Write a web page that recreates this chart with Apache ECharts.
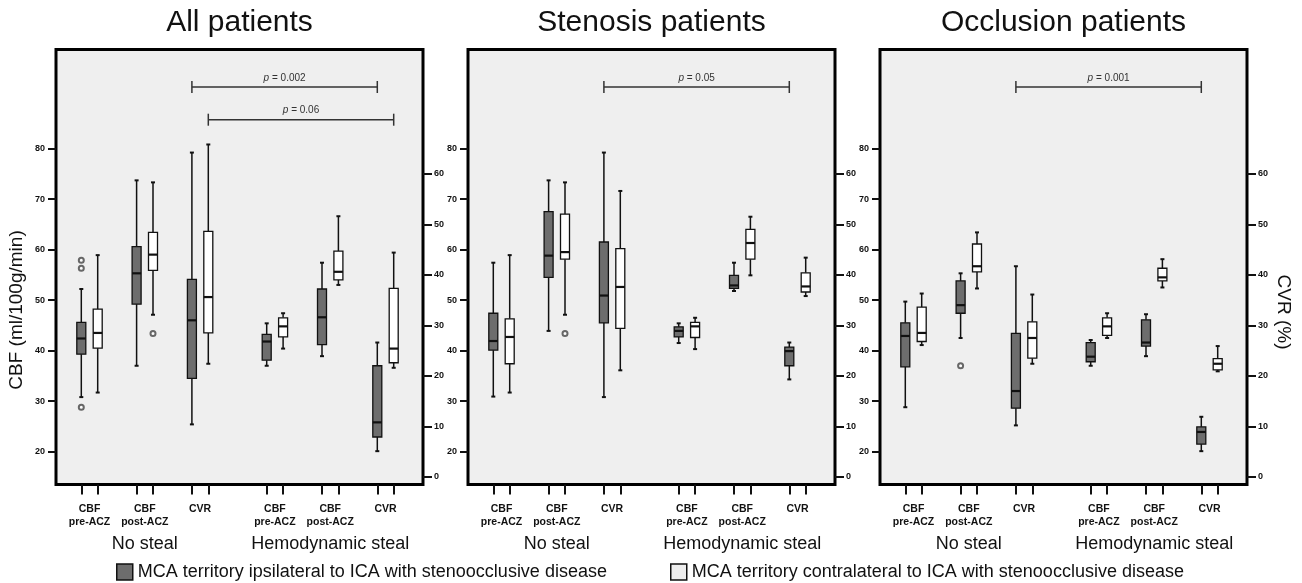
<!DOCTYPE html>
<html><head><meta charset="utf-8">
<script src="https://cdn.jsdelivr.net/npm/echarts@6/dist/echarts.min.js"></script>
<style>html,body{margin:0;padding:0;background:#fff}#c{width:1302px;height:583px}</style>
</head><body><div id="c"></div>
<script>
// ================= DATA =================
const panelTitles = ['All patients', 'Stenosis patients', 'Occlusion patients'];
const categoryLabels = ['CBF\npre-ACZ', 'CBF\npost-ACZ', 'CVR'];
const groupLabels = ['No steal', 'Hemodynamic steal'];
const territoryNames = [
  'MCA territory ipsilateral to ICA with stenoocclusive disease',
  'MCA territory contralateral to ICA with stenoocclusive disease'
];
const cbfAxisName = 'CBF (ml/100g/min)';
const cvrAxisName = 'CVR (%)';
const cbfTicks = [20, 30, 40, 50, 60, 70, 80];
const cvrTicks = [0, 10, 20, 30, 40, 50, 60];

// [min, Q1, median, Q3, max]; order: No steal (CBF pre, CBF post, CVR), Hemodynamic steal (CBF pre, CBF post, CVR)
const allIpsi = [
  [30.8, 39.3, 42.4, 45.6, 52.2], [37.0, 49.2, 55.3, 60.6, 73.7], [10.4, 19.5, 31.0, 39.1, 64.2],
  [37.0, 38.1, 41.8, 43.2, 45.4], [38.9, 41.2, 46.6, 52.2, 57.4], [5.1, 7.9, 10.8, 22.0, 26.6]
];
const allContra = [
  [31.7, 40.5, 43.5, 48.2, 58.9], [47.1, 55.9, 59.0, 63.4, 73.3], [22.4, 28.5, 35.6, 48.6, 65.8],
  [40.4, 42.7, 44.8, 46.5, 47.4], [53.0, 54.0, 55.6, 59.7, 66.6], [21.6, 22.6, 25.4, 37.3, 44.4]
];
const allIpsiOutliers = [[0, 57.9], [0, 56.3], [0, 28.8]];
const allContraOutliers = [[1, 43.4]];
const allBrackets = [[2, 5, 0], [2, 5, 1]];        // [from category, to category, territory]
const allPValues = ['0.002', '0.06'];

const stenIpsi = [
  [30.9, 40.1, 41.9, 47.4, 57.4], [43.9, 54.5, 58.8, 67.5, 73.7], [15.8, 30.5, 35.9, 46.5, 64.2],
  [41.5, 42.7, 43.9, 44.7, 45.4], [51.8, 52.3, 52.9, 54.9, 57.4], [19.3, 22.0, 24.9, 25.7, 26.6]
];
const stenContra = [
  [31.7, 37.4, 42.7, 46.3, 58.9], [47.1, 58.1, 59.5, 67.0, 73.3], [21.1, 29.4, 37.6, 45.2, 56.6],
  [40.3, 42.6, 44.8, 45.6, 46.5], [54.9, 58.1, 61.3, 64.0, 66.5], [35.8, 36.6, 37.7, 40.4, 43.4]
];
const stenIpsiOutliers = [];
const stenContraOutliers = [[1, 43.4]];
const stenBrackets = [[2, 5, 0]];
const stenPValues = ['0.05'];

const occlIpsi = [
  [28.8, 36.8, 42.9, 45.5, 49.7], [42.5, 47.4, 49.0, 53.8, 55.3], [10.2, 13.6, 17.0, 28.4, 41.7],
  [37.0, 37.8, 38.8, 41.6, 42.1], [38.9, 40.9, 41.6, 46.1, 47.2], [5.1, 6.5, 8.9, 9.9, 11.9]
];
const occlContra = [
  [41.1, 41.8, 43.5, 48.6, 51.3], [52.3, 55.6, 56.7, 61.1, 63.4], [22.4, 23.5, 27.5, 30.7, 36.1],
  [42.5, 43.0, 44.8, 46.5, 47.4], [52.5, 53.8, 54.5, 56.3, 58.1], [20.9, 21.2, 22.4, 23.4, 25.9]
];
const occlIpsiOutliers = [[1, 37.0]];
const occlContraOutliers = [];
const occlBrackets = [[2, 5, 0]];
const occlPValues = ['0.001'];

// ================= LAYOUT / STYLE =================
const FONT = '"Liberation Sans", Arial, Helvetica, sans-serif';
const PANEL_LEFT0 = 56, PANEL_STEP = 412, PANEL_W = 367, PANEL_TOP = 49.5, PANEL_H = 435;
const FIRST = 33.5, PAIR = 55.3, GROUP_GAP = 74.8, SIDE = 8.2;
const BOX_W = 9, CAP_W = 4;
const CBF_MIN = 13.5, CBF_MAX = 99.6, CVR_OFFSET = 15;
const BRACKET_TOP = 37.5, BRACKET_STEP = 32.7, BRACKET_CAP = 6;
const FILLS = ['#6d6d6d', '#ffffff'];
const INK = '#111';

function pairCenter(k) { const g = Math.floor(k / 3), c = k % 3; return FIRST + g * (2 * PAIR + GROUP_GAP) + c * PAIR; }
function boxPos(k, side) { return pairCenter(k) + (side === 0 ? -SIDE : SIDE); }
function groupCenter(g) { return FIRST + g * (2 * PAIR + GROUP_GAP) + PAIR; }
const isCVR = k => k % 3 === 2;

const panels = [
  { ipsi: allIpsi, contra: allContra, out: [allIpsiOutliers, allContraOutliers], br: allBrackets, pv: allPValues },
  { ipsi: stenIpsi, contra: stenContra, out: [stenIpsiOutliers, stenContraOutliers], br: stenBrackets, pv: stenPValues },
  { ipsi: occlIpsi, contra: occlContra, out: [occlIpsiOutliers, occlContraOutliers], br: occlBrackets, pv: occlPValues }
];

function boxRender(fill) {
  return function (params, api) {
    const x = api.value(0);
    const lo = api.coord([x, api.value(1)]);
    const q1 = api.coord([x, api.value(2)]);
    const md = api.coord([x, api.value(3)]);
    const q3 = api.coord([x, api.value(4)]);
    const hi = api.coord([x, api.value(5)]);
    const cx = lo[0], hw = BOX_W / 2, cw = CAP_W / 2;
    const ls = { stroke: INK, lineWidth: 1.5 };
    return {
      type: 'group', children: [
        { type: 'line', shape: { x1: cx, y1: hi[1], x2: cx, y2: q3[1] }, style: ls },
        { type: 'line', shape: { x1: cx, y1: q1[1], x2: cx, y2: lo[1] }, style: ls },
        { type: 'line', shape: { x1: cx - cw, y1: hi[1], x2: cx + cw, y2: hi[1] }, style: { stroke: INK, lineWidth: 2 } },
        { type: 'line', shape: { x1: cx - cw, y1: lo[1], x2: cx + cw, y2: lo[1] }, style: { stroke: INK, lineWidth: 2 } },
        { type: 'rect', shape: { x: cx - hw, y: q3[1], width: 2 * hw, height: q1[1] - q3[1] }, style: { fill: fill, stroke: INK, lineWidth: 1.3 } },
        { type: 'line', shape: { x1: cx - hw, y1: md[1], x2: cx + hw, y2: md[1] }, style: { stroke: INK, lineWidth: 2.2 } }
      ]
    };
  };
}

function bracketRender(pv) {
  return function (params, api) {
    const a = api.coord([api.value(0), 0]);
    const b = api.coord([api.value(1), 0]);
    const y = params.coordSys.y + BRACKET_TOP + params.dataIndex * BRACKET_STEP;
    const st = { stroke: '#333', lineWidth: 1.5 };
    return {
      type: 'group', children: [
        { type: 'line', shape: { x1: a[0], y1: y, x2: b[0], y2: y }, style: st },
        { type: 'line', shape: { x1: a[0], y1: y - BRACKET_CAP, x2: a[0], y2: y + BRACKET_CAP }, style: st },
        { type: 'line', shape: { x1: b[0], y1: y - BRACKET_CAP, x2: b[0], y2: y + BRACKET_CAP }, style: st },
        { type: 'text', x: (a[0] + b[0]) / 2, y: y - 9, style: {
            text: '{i|p} = ' + pv[params.dataIndex], fill: '#333', fontSize: 10, fontFamily: FONT,
            align: 'center', verticalAlign: 'middle',
            rich: { i: { fontStyle: 'italic', fontSize: 10, fontFamily: FONT, fill: '#333' } } } }
      ]
    };
  };
}

const grid = [], xAxis = [], yAxis = [], series = [], graphic = [];
panels.forEach((P, p) => {
  const left = PANEL_LEFT0 + p * PANEL_STEP;
  grid.push({ left: left, top: PANEL_TOP, width: PANEL_W, height: PANEL_H, show: true,
    backgroundColor: '#efefef', borderColor: '#000', borderWidth: 3, containLabel: false });
  const allPos = [];
  for (let k = 0; k < 6; k++) { allPos.push(boxPos(k, 0), boxPos(k, 1)); }
  const centers = [0, 1, 2, 3, 4, 5].map(pairCenter);
  const gcs = [0, 1].map(groupCenter);
  const base = { gridIndex: p, type: 'value', min: 0, max: PANEL_W, position: 'bottom',
    axisLine: { show: false, onZero: false }, splitLine: { show: false } };
  xAxis.push(Object.assign({}, base, {
    axisTick: { show: true, customValues: allPos, length: 10, lineStyle: { color: INK, width: 2 } },
    axisLabel: { show: false } }));
  xAxis.push(Object.assign({}, base, {
    axisTick: { show: false },
    axisLabel: { show: true, customValues: centers, margin: 18, fontSize: 10.5, fontWeight: 'bold',
      lineHeight: 13, color: INK, fontFamily: FONT, verticalAlign: 'top',
      formatter: v => { const k = centers.findIndex(c => Math.abs(c - v) < 1); return k < 0 ? '' : categoryLabels[k % 3]; } } }));
  xAxis.push(Object.assign({}, base, {
    axisTick: { show: false },
    axisLabel: { show: true, customValues: gcs, margin: 50, fontSize: 18, lineHeight: 20, color: INK,
      fontFamily: FONT, verticalAlign: 'top',
      formatter: v => { const g = gcs.findIndex(c => Math.abs(c - v) < 1); return g < 0 ? '' : groupLabels[g]; } } }));

  yAxis.push({ gridIndex: p, type: 'value', position: 'left', min: CBF_MIN, max: CBF_MAX,
    axisLine: { show: false, onZero: false }, splitLine: { show: false },
    axisTick: { show: true, customValues: cbfTicks, length: 8, lineStyle: { color: INK, width: 2 } },
    axisLabel: { show: true, customValues: cbfTicks, margin: 11, fontSize: 9, fontWeight: 'bold', color: INK, fontFamily: FONT } });
  yAxis.push({ gridIndex: p, type: 'value', position: 'right', min: CBF_MIN - CVR_OFFSET, max: CBF_MAX - CVR_OFFSET,
    axisLine: { show: false, onZero: false }, splitLine: { show: false },
    axisTick: { show: true, customValues: cvrTicks, length: 9, lineStyle: { color: INK, width: 2 } },
    axisLabel: { show: true, customValues: cvrTicks, margin: 11, fontSize: 9, fontWeight: 'bold', color: INK, fontFamily: FONT } });

  [P.ipsi, P.contra].forEach((arr, side) => {
    const rows = arr.map((v, k) => ({ k: k, d: [boxPos(k, side)].concat(v) }));
    series.push({ type: 'custom', name: territoryNames[side], xAxisIndex: 3 * p, yAxisIndex: 2 * p,
      renderItem: boxRender(FILLS[side]), encode: { x: 0, y: [1, 2, 3, 4, 5] },
      data: rows.filter(r => !isCVR(r.k)).map(r => r.d), itemStyle: { color: FILLS[side] }, z: 3 });
    series.push({ type: 'custom', name: territoryNames[side], xAxisIndex: 3 * p, yAxisIndex: 2 * p + 1,
      renderItem: boxRender(FILLS[side]), encode: { x: 0, y: [1, 2, 3, 4, 5] },
      data: rows.filter(r => isCVR(r.k)).map(r => r.d), itemStyle: { color: FILLS[side] }, z: 3 });
    const outs = P.out[side];
    const outCBF = outs.filter(o => !isCVR(o[0])).map(o => [boxPos(o[0], side), o[1]]);
    const outCVR = outs.filter(o => isCVR(o[0])).map(o => [boxPos(o[0], side), o[1]]);
    const outStyle = { color: '#444', borderColor: '#444', borderWidth: 1 };
    series.push({ type: 'scatter', name: 'outliers', xAxisIndex: 3 * p, yAxisIndex: 2 * p, data: outCBF,
      symbol: 'emptyCircle', symbolSize: 5, itemStyle: outStyle, z: 4, silent: true });
    series.push({ type: 'scatter', name: 'outliers', xAxisIndex: 3 * p, yAxisIndex: 2 * p + 1, data: outCVR,
      symbol: 'emptyCircle', symbolSize: 5, itemStyle: outStyle, z: 4, silent: true });
  });
  series.push({ type: 'custom', name: 'brackets', xAxisIndex: 3 * p, yAxisIndex: 2 * p + 1,
    renderItem: bracketRender(P.pv), encode: { x: [0, 1] },
    data: P.br.map(b => [boxPos(b[0], b[2]), boxPos(b[1], b[2])]), z: 5, silent: true });

  graphic.push({ type: 'text', x: left + PANEL_W / 2, y: 23, style: { text: panelTitles[p], fontSize: 30,
    fontFamily: FONT, fill: INK, align: 'center', verticalAlign: 'middle' } });
});

graphic.push({ type: 'text', x: 17, y: 310, rotation: Math.PI / 2, style: { text: cbfAxisName, fontSize: 19,
  fontFamily: FONT, fill: INK, align: 'center', verticalAlign: 'middle' } });
graphic.push({ type: 'text', x: 1283, y: 312, rotation: -Math.PI / 2, style: { text: cvrAxisName, fontSize: 19,
  fontFamily: FONT, fill: INK, align: 'center', verticalAlign: 'middle' } });

const legendBase = { orient: 'horizontal', top: 563, padding: 0, itemWidth: 16, itemHeight: 16, itemGap: 8, selectedMode: false,
  textStyle: { fontSize: 18, color: INK, fontFamily: FONT, padding: [0, 0, 0, 0] } };
const legend = [
  Object.assign({}, legendBase, { left: 116, data: [{ name: territoryNames[0], icon: 'rect',
    itemStyle: { color: FILLS[0], borderColor: INK, borderWidth: 1.5 } }] }),
  Object.assign({}, legendBase, { left: 670, data: [{ name: territoryNames[1], icon: 'rect',
    itemStyle: { color: '#eeeeee', borderColor: INK, borderWidth: 1.5 } }] })
];

const chart = echarts.init(document.getElementById('c'), null, { renderer: 'canvas' });
chart.setOption({
  backgroundColor: '#fff', animation: false, textStyle: { fontFamily: FONT },
  grid: grid, xAxis: xAxis, yAxis: yAxis, series: series, legend: legend, graphic: graphic, tooltip: { show: false }
});
</script></body></html>
